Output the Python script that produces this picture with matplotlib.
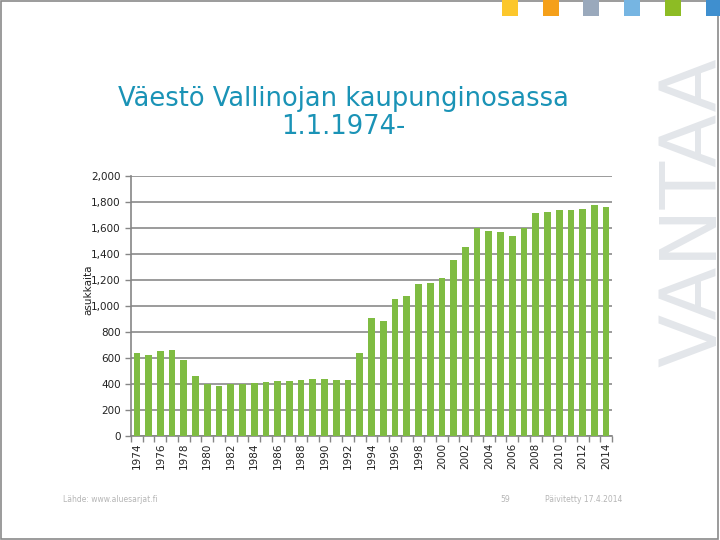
import matplotlib
matplotlib.use("Agg")
import matplotlib.pyplot as plt
from matplotlib.patches import Rectangle
from matplotlib.ticker import FuncFormatter, FixedLocator

years = list(range(1974, 2015))
population = [641, 623, 654, 662, 585, 462, 397, 385, 400, 400,
              405, 415, 426, 426, 431, 441, 438, 431, 431, 641,
              910, 887, 1056, 1072, 1169, 1177, 1215, 1349, 1449, 1600,
              1572, 1564, 1538, 1597, 1710, 1723, 1738, 1738, 1746, 1772,
              1762]
tick_years = years[::2]

title = "Väestö Vallinojan kaupunginosassa\n1.1.1974-"
ylabel = "asukkaita"
source = "Lähde: www.aluesarjat.fi"
page = "59"
updated = "Päivitetty 17.4.2014"
brand = "VANTAA"
square_colors = ["#FCC72C", "#F5A01A", "#9AA9BC", "#76B5E2", "#8DBC24", "#3F8FCF"]

W, H = 720, 540
fig = plt.figure(figsize=(7.2, 5.4), dpi=100)
fig.patch.set_facecolor("white")

def fx(px):
    return px / W

def fy(py):
    return 1 - py / H

# border
fig.add_artist(Rectangle((fx(0.5), fy(538.5)), fx(718) - fx(0.5), fy(0.5) - fy(538.5),
                         transform=fig.transFigure, fill=False, edgecolor="#8a8a8a", lw=1.2))

# colour squares
sq_x = [502, 543, 583, 624, 665, 706]
for x, c in zip(sq_x, square_colors):
    fig.add_artist(Rectangle((fx(x), fy(16)), 16 / W, 16 / H, transform=fig.transFigure,
                             facecolor=c, edgecolor="none"))

# VANTAA brand
fig.text(fx(716), fy(212), brand, rotation=90, ha="center", va="baseline",
         rotation_mode="anchor", fontsize=56, color="#E3E6EA", family="DejaVu Sans")

# title
fig.text(fx(343), fy(113), title, ha="center", va="center", fontsize=18.5,
         color="#1A93B6", linespacing=1.05, family="DejaVu Sans")

ax = fig.add_axes([fx(131), fy(436), fx(612) - fx(131), fy(175.7) - fy(436)])
x = list(range(len(years)))
ax.bar(x, population, width=0.57, color="#7FBC42", zorder=3)
ax.set_xlim(-0.5, len(years) - 0.5)
ax.set_ylim(0, 2000)
ax.set_yticks(range(0, 2001, 200))
ax.yaxis.set_major_formatter(FuncFormatter(lambda v, p: f"{int(v):,}"))
ax.grid(axis="y", color="#808080", lw=1.1, zorder=1)
ax.set_axisbelow(True)

ax.set_xticks([years.index(y) for y in tick_years])
ax.set_xticklabels([str(y) for y in tick_years], rotation=90, fontsize=7.5, color="#222222")
ax.xaxis.set_minor_locator(FixedLocator([i - 0.5 for i in range(len(years) + 1)]))
ax.tick_params(axis="x", which="major", length=0, pad=5)
ax.tick_params(axis="x", which="minor", length=4, color="#868686", width=1)
ax.tick_params(axis="y", length=4, color="#868686", width=1, labelsize=7.5, labelcolor="#222222")

for s in ["top", "right"]:
    ax.spines[s].set_visible(False)
for s in ["left", "bottom"]:
    ax.spines[s].set_color("#868686")
    ax.spines[s].set_linewidth(1.2)

fig.text(fx(88), fy(290), ylabel, rotation=90, ha="center", va="center",
         fontsize=7.5, color="#222222")

fig.text(fx(63), fy(500), source, ha="left", va="center", fontsize=5.5, color="#B5B5B5")
fig.text(fx(505), fy(500), page, ha="center", va="center", fontsize=5.5, color="#B5B5B5")
fig.text(fx(545), fy(500), updated, ha="left", va="center", fontsize=5.5, color="#B5B5B5")

fig.savefig("out.png", dpi=100)
